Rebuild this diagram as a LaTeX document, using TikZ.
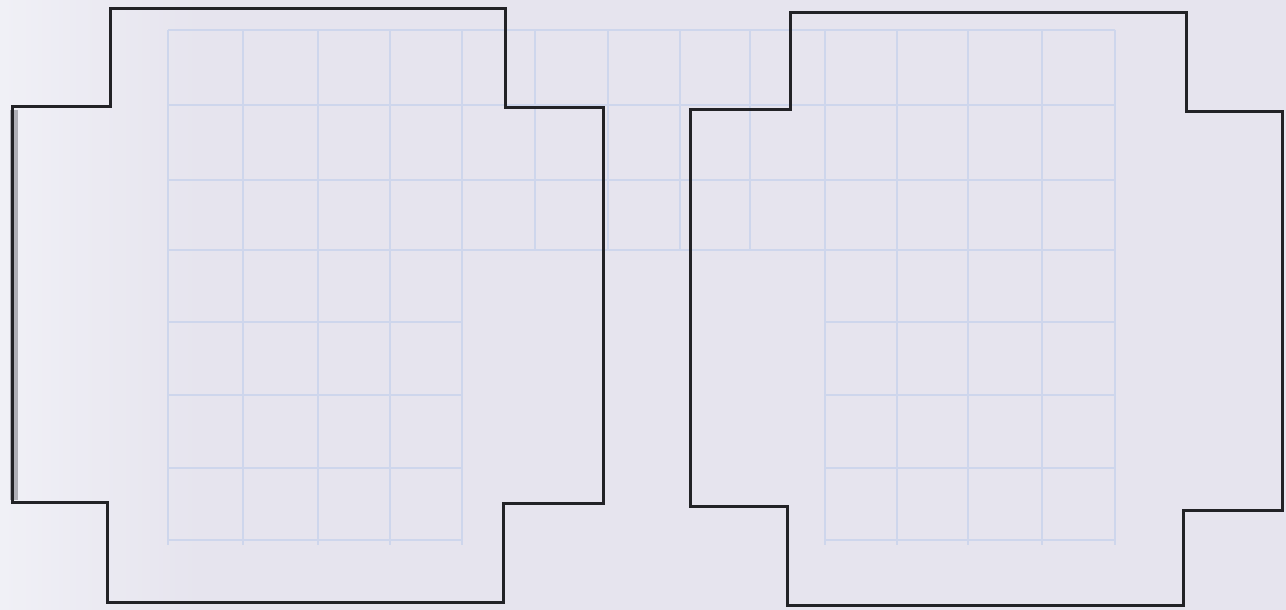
\documentclass[tikz,border=0pt]{standalone}
\usepackage{tikz}

\definecolor{paper}{RGB}{230,228,238}
\definecolor{paperlight}{RGB}{240,240,246}
\definecolor{gridblue}{RGB}{206,214,236}
\definecolor{inkline}{RGB}{34,34,38}

\tikzset{every picture/.style={line width=0.75pt}}
\tikzset{
  outline/.style={color=inkline, line width=2.25pt, line join=miter},
  gridline/.style={color=gridblue, line width=1.2pt},
}

\begin{document}
\begin{tikzpicture}[x=0.75pt,y=0.75pt,yscale=-1,xscale=1]
%set diagram left start at 0, and has height of 610
\useasboundingbox (0,0) rectangle (1286,610);

%Paper background
\fill [paper] (0,0) rectangle (1286,610);
\shade [left color=paperlight, right color=paper] (0,0) rectangle (200,610);
\fill [color={rgb, 255:red, 175; green, 175; blue, 182 }] (10,110) rectangle (18,500);

%Grid lines, upper rows across the page
\foreach \y in {30,105,180,250}
  \draw [gridline] (168,\y) -- (1115,\y);
%Grid lines, lower rows
\foreach \y in {322,395,468,540} {
  \draw [gridline] (168,\y) -- (462,\y);
  \draw [gridline] (825,\y) -- (1115,\y);
}
%Grid columns
\foreach \x in {168,243,318,390,462,825,897,968,1042,1115}
  \draw [gridline] (\x,30) -- (\x,545);
\foreach \x in {535,608,680,750}
  \draw [gridline] (\x,30) -- (\x,250);

%Shape: Polygon [id:left cross]
\draw [outline] (110,9) -- (505,9) -- (505,108) -- (603,108) -- (603,503) -- (503,503) -- (503,602) -- (107,602) -- (107,502) -- (12,502) -- (12,107) -- (110,107) -- cycle ;
%Shape: Polygon [id:right cross]
\draw [outline] (790,13) -- (1186,13) -- (1186,112) -- (1282,112) -- (1282,510) -- (1183,510) -- (1183,605) -- (787,605) -- (787,506) -- (690,506) -- (690,110) -- (790,110) -- cycle ;
\end{tikzpicture}
\end{document}
